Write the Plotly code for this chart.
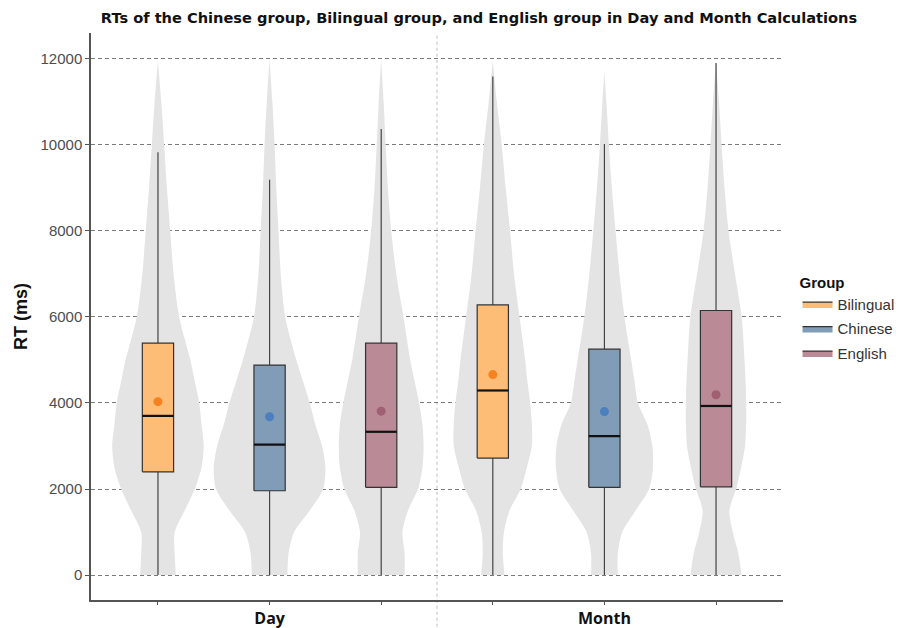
import plotly.graph_objects as go

# ---- data -------------------------------------------------------------
calculations = ["Day", "Month"]
groups = ["Bilingual", "Chinese", "English"]

# box-plot summaries (ms), order: Day x groups, then Month x groups
q1 = [2400, 1960, 2040, 2720, 2040, 2050]
median = [3700, 3030, 3330, 4290, 3230, 3930]
q3 = [5390, 4880, 5390, 6280, 5250, 6150]
lower_whisker = [0, 0, 0, 0, 0, 0]
upper_whisker = [9830, 9190, 10370, 11590, 10020, 11900]
means = [4030, 3680, 3810, 4660, 3800, 4190]

# kernel-density outline of each violin: half-width (x-axis units x 100)
density_levels = [0, 500, 1000, 1500, 2000, 2500, 3000, 3500, 4000,
                  4500, 5000, 6000, 7000, 8000, 9000, 10000, 11000]
violin_tops = [11950, 12000, 12000, 11960, 11700, 11950]
density_halfwidth = [
    [16, 15, 15, 24, 33, 39, 41, 39, 37, 33, 29, 19, 14, 11, 8, 5.5, 3],     # Day / Bilingual
    [16, 17, 22, 36, 48, 50, 47, 41, 36, 30, 24, 14, 10, 8, 6, 4.5, 2.5],    # Day / Chinese
    [21, 21, 19, 24, 33, 37, 38, 37, 34, 30, 26, 20, 13.5, 9, 6, 4, 2.2],    # Day / English
    [10.5, 9, 10, 15, 25, 30.5, 35, 35, 33.5, 31, 29, 24, 19, 15.5, 11.5, 8, 3.6],  # Month / Bilingual
    [12, 12, 16, 28, 40, 43.5, 43, 38.5, 30, 27, 24, 18, 13.5, 10, 6.7, 4, 1.8],     # Month / Chinese
    [23, 20, 15, 12, 18, 22.5, 26, 27, 27, 26.5, 25.5, 23, 17, 11.2, 7.6, 5, 2.7],   # Month / English
]

y_ticks = [0, 2000, 4000, 6000, 8000, 10000, 12000]

box_fill = {"Bilingual": "#FEBD77", "Chinese": "#819CB6", "English": "#BA8A96"}
mean_color = {"Bilingual": "#F5821E", "Chinese": "#4A7FC0", "English": "#A05F73"}
BOX_HALF = 0.14

# ---- figure -----------------------------------------------------------
fig = go.Figure()

positions = list(range(len(calculations) * len(groups)))
group_of = [g for _ in calculations for g in groups]

# violins (drawn first so that boxes sit on top of them)
for i, pos in enumerate(positions):
    hw = [w / 100 for w in density_halfwidth[i]]
    ys = density_levels + [violin_tops[i]]
    ws = hw + [0]
    xs_poly = [pos + w for w in ws] + [pos - w for w in reversed(ws)]
    ys_poly = ys + list(reversed(ys))
    fig.add_trace(go.Scatter(
        x=xs_poly, y=ys_poly, mode="lines", fill="toself",
        fillcolor="#E4E4E4", line=dict(color="rgba(0,0,0,0)", width=0, shape="spline", smoothing=0.8),
        hoverinfo="skip", showlegend=False,
    ))

# whiskers: one trace, segments separated by gaps
wx, wy = [], []
for i, pos in enumerate(positions):
    wx += [pos, pos, None, pos, pos, None]
    wy += [lower_whisker[i], q1[i], None, q3[i], upper_whisker[i], None]
fig.add_trace(go.Scatter(x=wx, y=wy, mode="lines", line=dict(color="#444444", width=1.2),
                         hoverinfo="skip", showlegend=False, connectgaps=False))

# boxes (interquartile range)
for g in groups:
    idx = [i for i in positions if group_of[i] == g]
    for k, i in enumerate(idx):
        pos = positions[i]
        fig.add_trace(go.Scatter(
            x=[pos - BOX_HALF, pos + BOX_HALF, pos + BOX_HALF, pos - BOX_HALF, pos - BOX_HALF],
            y=[q1[i], q1[i], q3[i], q3[i], q1[i]],
            mode="lines", fill="toself", fillcolor=box_fill[g],
            line=dict(color="#333333", width=1.2),
            name=g, legendgroup=g, showlegend=(k == 0), hoverinfo="skip",
        ))

# median bars
for i, pos in enumerate(positions):
    fig.add_trace(go.Scatter(
        x=[pos - BOX_HALF, pos + BOX_HALF], y=[median[i], median[i]], mode="lines",
        line=dict(color="#111111", width=2.2), hoverinfo="skip", showlegend=False,
    ))

# group means
for g in groups:
    idx = [i for i in positions if group_of[i] == g]
    fig.add_trace(go.Scatter(
        x=[positions[i] for i in idx], y=[means[i] for i in idx], mode="markers",
        marker=dict(color=mean_color[g], size=9), hoverinfo="skip", showlegend=False,
    ))

# dashed separator between the two calculations
fig.add_shape(type="line", xref="x", yref="paper", x0=2.5, x1=2.5, y0=-0.1, y1=1,
              line=dict(color="#BDBDBD", width=1, dash="dot"), layer="below")

tick_text = []
for c in calculations:
    for j, _ in enumerate(groups):
        tick_text.append(f"<b>{c}</b>" if j == 1 else "")

fig.update_layout(
    width=908, height=628,
    margin=dict(l=91, r=125, t=33, b=28, autoexpand=False),
    paper_bgcolor="white", plot_bgcolor="white",
    font=dict(family="Liberation Sans, Arial, sans-serif", color="#4D4D4D"),
    title=dict(text="<b>RTs of the Chinese group, Bilingual group, and English group in Day and Month Calculations</b>",
               x=479 / 908, xanchor="center", y=1 - 18 / 628, yanchor="middle",
               font=dict(family="DejaVu Sans, sans-serif", size=14.6, color="#111111")),
    xaxis=dict(range=[-0.6, 5.6], tickvals=positions, ticktext=tick_text, automargin=False,
               showgrid=False, zeroline=False, showline=True, linecolor="#555555", linewidth=1.5,
               ticks="outside", ticklen=3, tickcolor="#555555", ticklabelstandoff=0,
               tickfont=dict(family="Open Sans, sans-serif", size=16, color="#111111")),
    yaxis=dict(range=[-580, 12600], tickvals=y_ticks, ticktext=[str(v) for v in y_ticks],
               automargin=False,
               showgrid=True, gridcolor="#7A7A7A", gridwidth=1.2, griddash="4px,3px",
               zeroline=False, showline=True, linecolor="#555555", linewidth=1.5,
               ticks="outside", ticklen=4, tickcolor="#555555",
               tickfont=dict(size=15, color="#4D4D4D"),
               title=dict(text="<b>RT (ms)</b>", font=dict(size=18, color="#111111"), standoff=8)),
    legend=dict(title=dict(text="<b>Group</b>", font=dict(size=15, color="#111111")),
                x=0.021, xref="paper", xanchor="left", y=0.585, yanchor="top",
                font=dict(size=15, color="#333333"), tracegroupgap=2,
                bgcolor="rgba(0,0,0,0)"),
    showlegend=True,
)
# legend sits in the right margin of the figure
fig.update_layout(legend_x=1.021)

fig.write_html("out.html")
